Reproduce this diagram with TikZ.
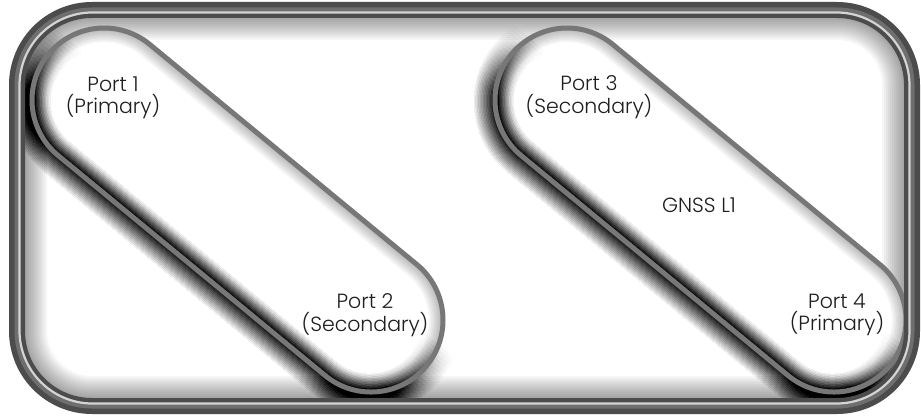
\documentclass[tikz,border=0pt]{standalone}
\usepackage{fontspec}
\setmainfont{Poppins}[UprightFont=* Light]
\usepackage{xcolor}
\usetikzlibrary{
  calc,
  backgrounds
}
\definecolor{FrameDark}{HTML}{4C4C4C}
\definecolor{FrameMid}{HTML}{6E6E6E}
\definecolor{FrameLight}{HTML}{D4D4D4}
\definecolor{LoopGray}{HTML}{777777}
\definecolor{LabelInk}{HTML}{1E1E1E}

\tikzset{
  portlabel/.style={align=center,inner sep=0pt,text=LabelInk,
                    font=\fontsize{20.5}{22.5}\selectfont},
  framepath/.style={rounded corners=75pt},
}
% one stadium, drawn from the centre of its upper-left end
\newcommand{\loopshape}{(0,72) -- (346,72) arc (90:-90:72) -- (0,-72) arc (-90:-270:72) -- cycle}

\begin{document}
\begin{tikzpicture}[x=1pt,y=1pt]
  \useasboundingbox (0,0) rectangle (921,416);
  \fill[white] (0,0) rectangle (921,416);

  % soft shade inside the outer frame
  \begin{scope}
    \clip[framepath] (17,10) rectangle (912,406);
    \foreach \w in {16,20,...,60}
      \draw[black,opacity=0.035,line width=\w pt,framepath] (17,10) rectangle (912,406);
  \end{scope}

  % the two loops
  \foreach \cx in {104,567} {
    \begin{scope}[shift={(\cx,316)},rotate=-39.49]
      \fill[white] \loopshape;
      % glow on the inner side
      \begin{scope}
        \clip \loopshape;
        \foreach \w in {4,8,...,28}
          \draw[black,opacity=0.045,line width=\w pt] \loopshape;
      \end{scope}
      % heavy blur along the lower-left side, fading out towards the axis
      \foreach \t in {24,20,...,-40} {
        \begin{scope}
          \clip (-120,\t) rectangle (470,-120);
          \foreach \w in {4,7,...,40}
            \draw[black,opacity=0.004,line width=\w pt,yshift=-2pt] \loopshape;
        \end{scope}
      }
      \draw[LoopGray,line width=5pt] \loopshape;
    \end{scope}
  }

  % outer frame
  \draw[FrameDark,line width=16pt,framepath] (17,10) rectangle (912,406);
  \draw[FrameMid,line width=5pt,framepath] (17,10) rectangle (912,406);
  \draw[FrameLight,line width=2.2pt,rounded corners=73pt] (19.5,12.5) rectangle (909.5,403.5);

  \node[portlabel] (port1) at (113,318) {Port 1\\(Primary)};
  \node[portlabel] (port2) at (365,101) {Port 2\\(Secondary)};
  \node[portlabel] (port3) at (589,319) {Port 3\\(Secondary)};
  \node[portlabel] (port4) at (837,101) {Port 4\\(Primary)};
  \node[portlabel] (gnss) at (699,211) {GNSS L1};
\end{tikzpicture}
\end{document}
